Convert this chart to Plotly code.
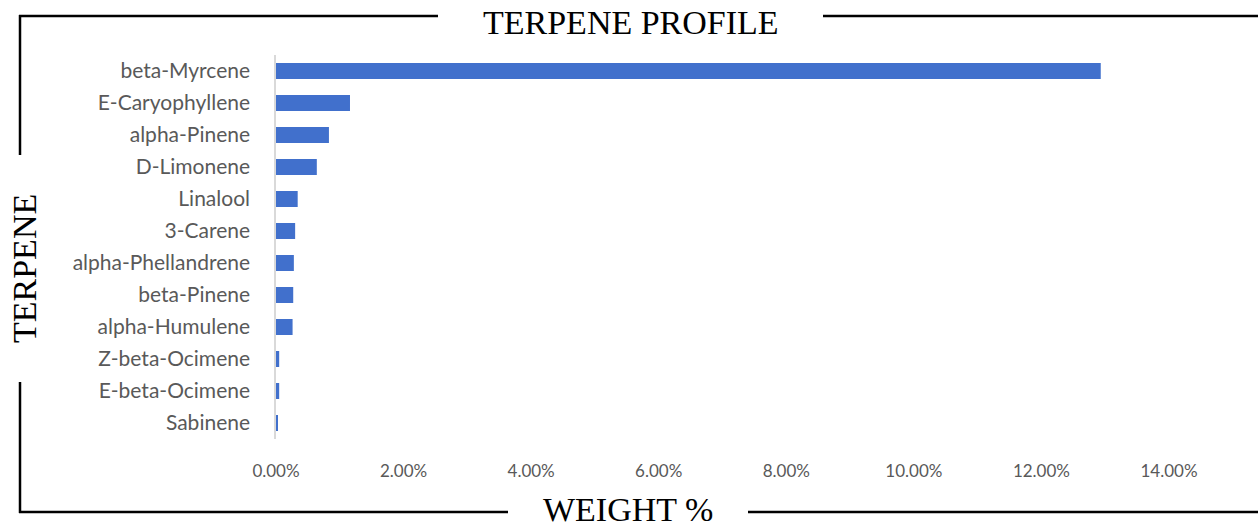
import plotly.graph_objects as go

terpenes = ["beta-Myrcene", "E-Caryophyllene", "alpha-Pinene", "D-Limonene", "Linalool",
            "3-Carene", "alpha-Phellandrene", "beta-Pinene", "alpha-Humulene",
            "Z-beta-Ocimene", "E-beta-Ocimene", "Sabinene"]
weight_pct = [0.1293, 0.0116, 0.0083, 0.0064, 0.0034, 0.0030, 0.0028, 0.0027, 0.0026,
              0.0005, 0.0005, 0.0003]
x_ticks = [0, 0.02, 0.04, 0.06, 0.08, 0.10, 0.12, 0.14]

W, H = 1258, 531
L, R, T, B = 276, 1169, 55, 439  # plot area in pixels


def px(x):
    return (x - L) / (R - L)


def py(y):
    return (B - y) / (B - T)


fig = go.Figure(go.Bar(
    x=weight_pct, y=terpenes, orientation="h",
    marker=dict(color="#4170CC", line=dict(width=0)),
    width=0.5,
))

line_style = dict(color="black", width=2.5)
frame_segments = [
    (19, 16, 438, 16), (823, 16, 1262, 16),
    (20, 15, 20, 155), (20, 382, 20, 513),
    (19, 512, 508, 512), (748, 512, 1262, 512),
]
shapes = [dict(type="line", xref="paper", yref="paper",
               x0=px(a), y0=py(b), x1=px(c), y1=py(d), line=line_style)
          for a, b, c, d in frame_segments]

serif = "Liberation Serif"
annotations = [
    dict(text="TERPENE PROFILE", x=px(631), y=py(22), xref="paper", yref="paper",
         showarrow=False, xanchor="center", yanchor="middle", borderpad=0,
         font=dict(family=serif, size=34, color="black")),
    dict(text="WEIGHT %", x=px(628), y=py(509), xref="paper", yref="paper",
         showarrow=False, xanchor="center", yanchor="middle", borderpad=0,
         font=dict(family=serif, size=34, color="black")),
    dict(text="TERPENE", x=px(24), y=py(269), xref="paper", yref="paper",
         showarrow=False, xanchor="center", yanchor="middle", textangle=-90, borderpad=0,
         font=dict(family=serif, size=34, color="black")),
]

fig.update_layout(
    width=W, height=H,
    margin=dict(l=L, r=W - R, t=T, b=H - B),
    paper_bgcolor="white", plot_bgcolor="white",
    showlegend=False,
    shapes=shapes,
    annotations=annotations,
    xaxis=dict(range=[0, 0.14], tickvals=x_ticks, tickformat=".2%",
               showgrid=False, zeroline=False, showline=False,
               tickfont=dict(family="Lato", size=17, color="#595959"),
               ticklabelstandoff=20, fixedrange=True),
    yaxis=dict(autorange="reversed", showgrid=False, zeroline=False,
               showline=True, linecolor="#D9D9D9", linewidth=1.5,
               tickfont=dict(family="Lato", size=21, color="#595959"),
               ticklabelstandoff=20, fixedrange=True),
)

fig.write_html("out.html", config={"displayModeBar": False},
               post_script="document.body.style.margin='0';document.body.style.overflow='hidden';")
